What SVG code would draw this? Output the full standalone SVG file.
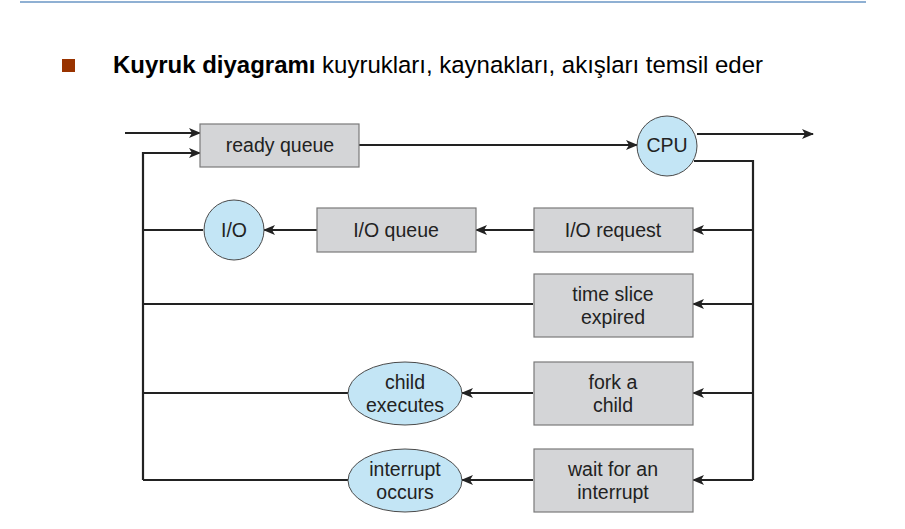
<svg xmlns="http://www.w3.org/2000/svg" width="905" height="529" viewBox="0 0 905 529">
<style>
.box{fill:#d4d5d7;stroke:#7a7a7a;stroke-width:1.2}
.oval{fill:#c3e5f5;stroke:#4a4a4a;stroke-width:1}
.lbl{font-family:"Liberation Sans",Arial,sans-serif;font-size:19.5px;fill:#222;text-anchor:middle}
.ln{fill:none;stroke:#222;stroke-width:2.2}
.arr{marker-end:url(#ah)}
</style>
<defs>
<marker id="ah" viewBox="0 0 12 10" refX="11" refY="5" markerWidth="12" markerHeight="10" markerUnits="userSpaceOnUse" orient="auto">
<path d="M0,0 L12,5 L0,10 L3,5 Z" fill="#222"/>
</marker>
</defs>
<rect width="905" height="529" fill="#fff"/>
<line x1="20" y1="2" x2="866" y2="2" stroke="#8fb0d3" stroke-width="2"/>
<rect x="62" y="59" width="13" height="13" fill="#993300"/>
<text x="113" y="73" font-family="Liberation Sans,Arial,sans-serif" font-size="24.5" fill="#000" textLength="650" lengthAdjust="spacingAndGlyphs"><tspan font-weight="bold">Kuyruk diyagramı</tspan> kuyrukları, kaynakları, akışları temsil eder</text>

<g id="connectors">
<path class="ln arr" d="M125,133 H200"/>
<path class="ln arr" d="M143,480 V153 H200"/>
<path class="ln arr" d="M359,145 H637"/>
<path class="ln arr" d="M697,134 H813"/>
<path class="ln" d="M694,161 H753 V480"/>
<path class="ln arr" d="M753,230 H693"/>
<path class="ln arr" d="M534,230 H476"/>
<path class="ln arr" d="M317,230 H264"/>
<path class="ln" d="M203,230 H143"/>
<path class="ln arr" d="M753,304 H693"/>
<path class="ln" d="M533,304 H143"/>
<path class="ln arr" d="M753,393 H693"/>
<path class="ln arr" d="M533,393 H462"/>
<path class="ln" d="M348,393 H143"/>
<path class="ln arr" d="M753,480 H693"/>
<path class="ln arr" d="M533,480 H462"/>
<path class="ln" d="M348,480 H143"/>
</g>

<g id="ready-queue"><rect class="box" x="200" y="124" width="159" height="43"/><text class="lbl" x="280" y="152">ready queue</text></g>
<g id="cpu"><circle class="oval" cx="667" cy="146" r="30"/><text class="lbl" x="667" y="152">CPU</text></g>
<g id="io"><circle class="oval" cx="234" cy="230" r="30"/><text class="lbl" x="234" y="237">I/O</text></g>
<g id="io-queue"><rect class="box" x="317" y="208" width="159" height="44"/><text class="lbl" x="396" y="237">I/O queue</text></g>
<g id="io-request"><rect class="box" x="534" y="208" width="159" height="44"/><text class="lbl" x="613" y="237">I/O request</text></g>
<g id="time-slice"><rect class="box" x="534" y="274" width="159" height="63"/><text class="lbl" x="613" y="301">time slice</text><text class="lbl" x="613" y="324">expired</text></g>
<g id="fork"><rect class="box" x="534" y="362" width="159" height="63"/><text class="lbl" x="613" y="389">fork a</text><text class="lbl" x="613" y="412">child</text></g>
<g id="child-executes"><ellipse class="oval" cx="405" cy="393.5" rx="57" ry="31.5"/><text class="lbl" x="405" y="389">child</text><text class="lbl" x="405" y="412">executes</text></g>
<g id="wait"><rect class="box" x="534" y="449" width="159" height="63"/><text class="lbl" x="613" y="476">wait for an</text><text class="lbl" x="613" y="499">interrupt</text></g>
<g id="interrupt-occurs"><ellipse class="oval" cx="405" cy="480.5" rx="57" ry="31.5"/><text class="lbl" x="405" y="476">interrupt</text><text class="lbl" x="405" y="499">occurs</text></g>
</svg>
